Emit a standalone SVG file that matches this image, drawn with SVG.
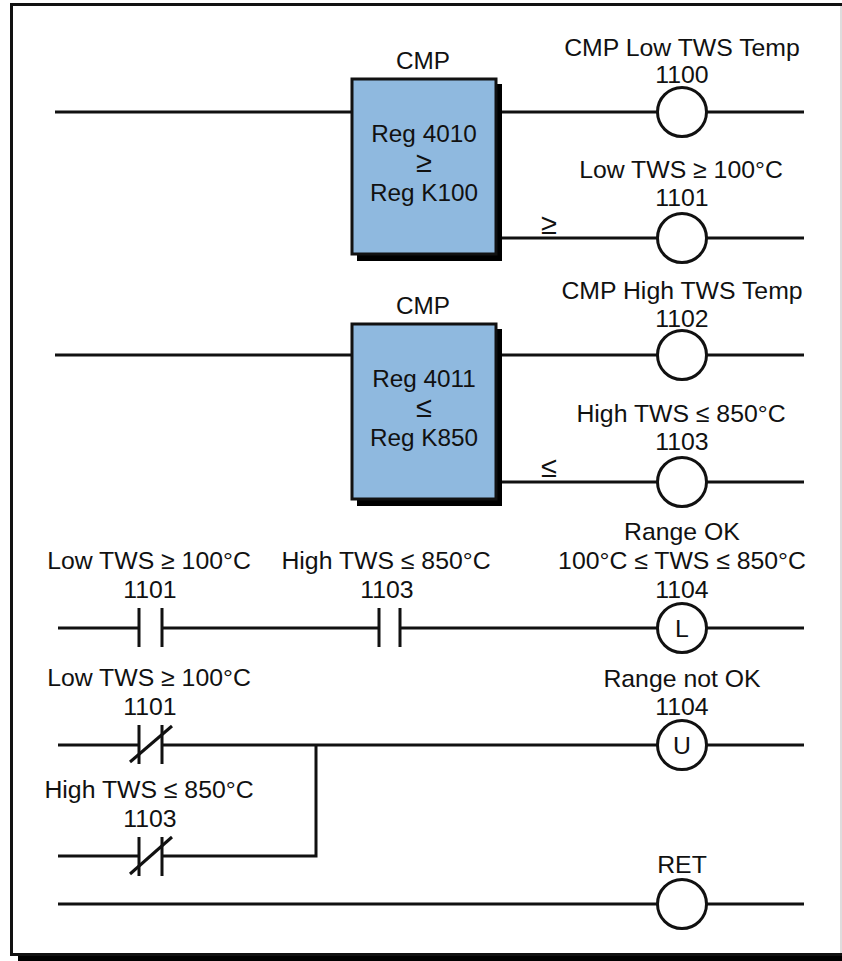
<svg xmlns="http://www.w3.org/2000/svg" width="842" height="961" viewBox="0 0 842 961">
<style>
text{font-family:"Liberation Sans",Arial,sans-serif;font-size:24.8px;fill:#111;text-anchor:middle}
.b{font-size:24.3px}
.sym{font-size:29px}
.w{fill:none;stroke:#111;stroke-width:3}
.coil{fill:#fff;stroke:#111;stroke-width:3}
.box{fill:#8fb9df;stroke:#111;stroke-width:3}
</style>
<rect width="842" height="961" fill="#fff"/>
<g id="frame">
<rect x="18" y="10" width="824" height="951" fill="#000"/>
<rect x="11.5" y="4.5" width="835" height="950" fill="#fff" stroke="#111" stroke-width="3"/>
<path d="M841 6V953" stroke="#bbb" stroke-width="1" fill="none"/>
</g>
<g id="connectors" class="w">
<path d="M55 112H352M500 112H657M707 112H804"/>
<path d="M500 238H657M707 238H804"/>
<path d="M55 355H352M500 355H657M707 355H804"/>
<path d="M500 482H657M707 482H804"/>
<path d="M58 628H139M139 608V647M162 608V647M162 628H379M379 608V647M400 608V647M400 628H657M707 628H804"/>
<path d="M58 745H139M139 725V764M162 725V764M162 745H657M707 745H804"/>
<path d="M130 762L172 726"/>
<path d="M58 856H139M139 837V876M162 837V876M162 856H316V745"/>
<path d="M130 874L172 837"/>
<path d="M58 904H657M707 904H804"/>
</g>
<g id="cmp1">
<rect x="357" y="84" width="145" height="177" fill="#000"/>
<rect x="352" y="79" width="144" height="175" class="box"/>
<text class="b" x="423" y="69">CMP</text>
<text class="b" x="424" y="142">Reg 4010</text>
<text class="sym" x="424" y="172">≥</text>
<text class="b" x="424" y="201">Reg K100</text>
</g>
<g id="cmp2">
<rect x="357" y="329" width="145" height="177" fill="#000"/>
<rect x="352" y="324" width="144" height="175" class="box"/>
<text class="b" x="423" y="314">CMP</text>
<text class="b" x="424" y="387">Reg 4011</text>
<text class="sym" x="424" y="417">≤</text>
<text class="b" x="424" y="446">Reg K850</text>
</g>
<g id="ge-label"><text class="sym" x="549" y="234">≥</text></g>
<g id="le-label"><text class="sym" x="549" y="477">≤</text></g>
<g id="coil1100"><circle cx="682" cy="112" r="24.5" class="coil"/><text x="682" y="56">CMP Low TWS Temp</text><text x="682" y="83">1100</text></g>
<g id="coil1101"><circle cx="682" cy="238" r="24.5" class="coil"/><text x="681" y="178">Low TWS ≥ 100°C</text><text x="682" y="206">1101</text></g>
<g id="coil1102"><circle cx="682" cy="355" r="24.5" class="coil"/><text x="682" y="299">CMP High TWS Temp</text><text x="682" y="327">1102</text></g>
<g id="coil1103"><circle cx="682" cy="482" r="24.5" class="coil"/><text x="681" y="422">High TWS ≤ 850°C</text><text x="682" y="450">1103</text></g>
<g id="coil1104L"><circle cx="682" cy="628" r="24.5" class="coil"/><text x="682" y="637">L</text><text x="682" y="540">Range OK</text><text x="682" y="569">100°C ≤ TWS ≤ 850°C</text><text x="682" y="598">1104</text></g>
<g id="coil1104U"><circle cx="682" cy="745" r="24.5" class="coil"/><text x="682" y="754">U</text><text x="682" y="687">Range not OK</text><text x="682" y="715">1104</text></g>
<g id="coilRET"><circle cx="682" cy="904" r="24.5" class="coil"/><text x="682" y="873">RET</text></g>
<g id="contact1"><text x="149" y="569">Low TWS ≥ 100°C</text><text x="150" y="598">1101</text></g>
<g id="contact2"><text x="386" y="569">High TWS ≤ 850°C</text><text x="387" y="598">1103</text></g>
<g id="contact3"><text x="149" y="686">Low TWS ≥ 100°C</text><text x="150" y="715">1101</text></g>
<g id="contact4"><text x="149" y="798">High TWS ≤ 850°C</text><text x="150" y="827">1103</text></g>
</svg>
